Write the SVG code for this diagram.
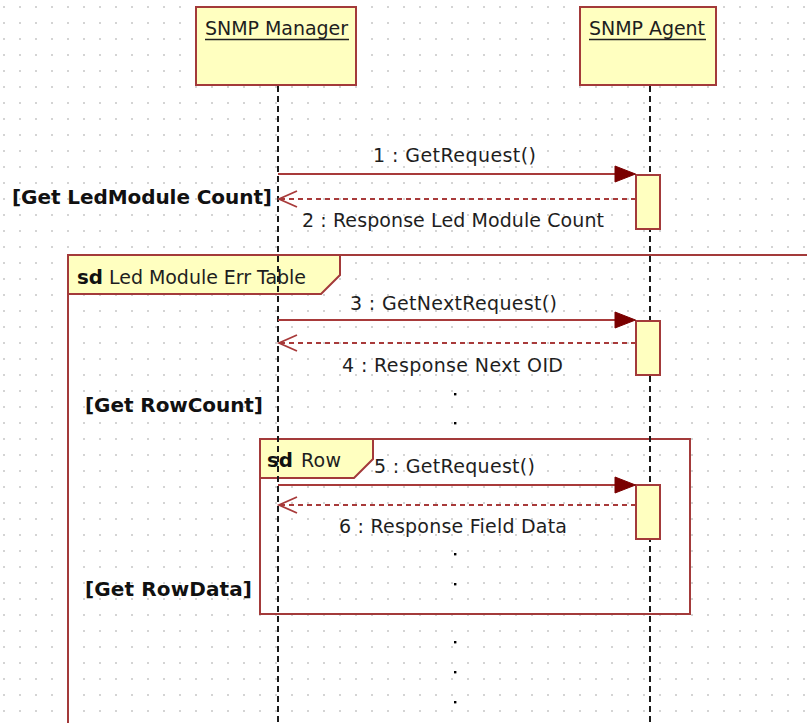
<svg xmlns="http://www.w3.org/2000/svg" width="807" height="723" viewBox="0 0 807 723">
  <defs>
    <pattern id="grid" x="0" y="0" width="16" height="16" patternUnits="userSpaceOnUse">
      <rect x="3" y="6" width="2" height="2" fill="#d4d4d4"/>
    </pattern>
    <style>
      .obj { fill: #ffffc0; stroke: #a33a3a; stroke-width: 2; }
      .act { fill: #ffffc0; stroke: #a33a3a; stroke-width: 2; }
      .life { stroke: #1a1a1a; stroke-width: 2; stroke-dasharray: 6 4; fill: none; }
      .frame { fill: none; stroke: #a33a3a; stroke-width: 2; }
      .tab { fill: #ffffc0; stroke: #a33a3a; stroke-width: 2; stroke-linejoin: miter; }
      .call { stroke: #a83a3a; stroke-width: 2; fill: none; }
      .head { fill: #7a0000; stroke: #7a0000; stroke-width: 1; stroke-linejoin: round; }
      .ret { stroke: #a83a3a; stroke-width: 2.2; stroke-dasharray: 5 4; fill: none; }
      .open { stroke: #a83a3a; stroke-width: 1.8; fill: none; }
      .t { font-family: "DejaVu Sans", Verdana, sans-serif; font-size: 19px; fill: #1e1e1e; }
      .b { font-family: "DejaVu Sans", Verdana, sans-serif; font-size: 20px; font-weight: bold; fill: #111; }
      .sd { font-family: "DejaVu Sans", Verdana, sans-serif; font-size: 19px; font-weight: bold; fill: #111; }
      .ul { stroke: #1e1e1e; stroke-width: 1.4; }
      .dot { fill: #000; }
    </style>
  </defs>

  <!-- canvas with dotted grid -->
  <rect x="0" y="0" width="807" height="723" fill="#ffffff"/>
  <rect x="0" y="0" width="807" height="723" fill="url(#grid)"/>

  <!-- combined fragments -->
  <g id="frame-led-module-err-table">
    <rect class="frame" x="68" y="255" width="760" height="500"/>
    <path class="tab" d="M68,255 H340 V275 L321,294 H68 Z"/>
    <text class="sd" x="77" y="284" textLength="26" lengthAdjust="spacingAndGlyphs">sd</text>
    <text class="t" x="109" y="284" textLength="197" lengthAdjust="spacing">Led Module Err Table</text>
  </g>

  <g id="frame-row">
    <rect class="frame" x="260" y="439" width="430" height="175"/>
    <path class="tab" d="M260,439 H373 V459 L354,478 H260 Z"/>
    <text class="sd" x="267" y="467" textLength="26" lengthAdjust="spacingAndGlyphs">sd</text>
    <text class="t" x="301" y="467" textLength="40" lengthAdjust="spacing">Row</text>
  </g>

  <!-- lifelines -->
  <g id="manager">
    <line class="life" x1="278" y1="86" x2="278" y2="723"/>
    <rect class="obj" x="196" y="7" width="160" height="78"/>
    <text class="t" x="205" y="35" textLength="143" lengthAdjust="spacing">SNMP Manager</text>
    <line class="ul" x1="205" y1="39.5" x2="349" y2="39.5"/>
  </g>

  <g id="agent">
    <line class="life" x1="650" y1="86" x2="650" y2="723"/>
    <rect class="obj" x="580" y="7" width="136" height="78"/>
    <text class="t" x="589" y="35" textLength="116" lengthAdjust="spacing">SNMP Agent</text>
    <line class="ul" x1="589" y1="39.5" x2="706" y2="39.5"/>
    <rect class="act" x="636" y="175" width="24" height="54"/>
    <rect class="act" x="636" y="321" width="24" height="54"/>
    <rect class="act" x="636" y="485" width="24" height="54"/>
  </g>

  <!-- messages -->
  <g id="connectors">
    <line class="call" x1="278" y1="174" x2="616" y2="174"/>
    <polygon class="head" points="615,166 635.5,174 615,182"/>
    <line class="ret" x1="636" y1="199" x2="280" y2="199"/>
    <polyline class="open" points="297,191 279,199 297,207"/>

    <line class="call" x1="278" y1="320" x2="616" y2="320"/>
    <polygon class="head" points="615,312 635.5,320 615,328"/>
    <line class="ret" x1="636" y1="343" x2="280" y2="343"/>
    <polyline class="open" points="297,335 279,343 297,351"/>

    <line class="call" x1="278" y1="485" x2="616" y2="485"/>
    <polygon class="head" points="615,477 635.5,485 615,493"/>
    <line class="ret" x1="636" y1="505" x2="280" y2="505"/>
    <polyline class="open" points="297,497 279,505 297,513"/>
  </g>

  <!-- message labels -->
  <g id="labels">
    <text class="t" x="373" y="162" textLength="163" lengthAdjust="spacing">1 : GetRequest()</text>
    <text class="t" x="302" y="227" textLength="302" lengthAdjust="spacing">2 : Response Led Module Count</text>
    <text class="t" x="350" y="310" textLength="207" lengthAdjust="spacing">3 : GetNextRequest()</text>
    <text class="t" x="342" y="372" textLength="221" lengthAdjust="spacing">4 : Response Next OID</text>
    <text class="t" x="374" y="473" textLength="161" lengthAdjust="spacing">5 : GetRequest()</text>
    <text class="t" x="339" y="533" textLength="228" lengthAdjust="spacing">6 : Response Field Data</text>
  </g>

  <!-- guards -->
  <g id="guards">
    <text class="b" x="12" y="204" textLength="260" lengthAdjust="spacing">[Get LedModule Count]</text>
    <text class="b" x="85" y="412" textLength="178" lengthAdjust="spacing">[Get RowCount]</text>
    <text class="b" x="85" y="596" textLength="167" lengthAdjust="spacing">[Get RowData]</text>
  </g>

  <!-- continuation marks -->
  <g id="ellipses">
    <rect class="dot" x="454" y="393" width="2.4" height="2.4"/>
    <rect class="dot" x="454" y="422" width="2.4" height="2.4"/>
    <rect class="dot" x="454" y="553" width="2.4" height="2.4"/>
    <rect class="dot" x="454" y="583" width="2.4" height="2.4"/>
    <rect class="dot" x="454" y="641" width="2.4" height="2.4"/>
    <rect class="dot" x="454" y="671" width="2.4" height="2.4"/>
    <rect class="dot" x="454" y="701" width="2.4" height="2.4"/>
  </g>
</svg>
